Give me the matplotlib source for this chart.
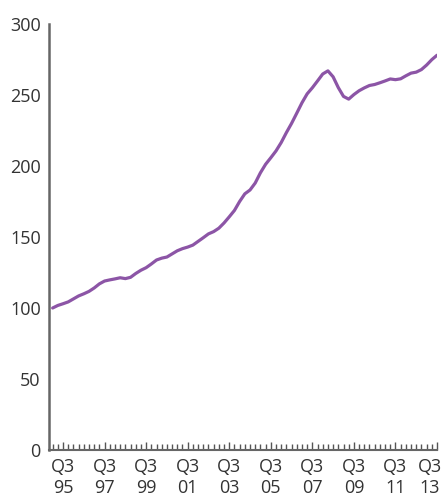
import numpy as np
import matplotlib.pyplot as plt
import matplotlib.transforms as mtransforms
from matplotlib.ticker import FixedLocator

# quarterly index, Q1 1995 = 100, up to Q3 2013
index_values = [
    100.0, 101.8, 103.0, 104.3, 106.4, 108.5, 110.0, 111.7,
    114.1, 117.0, 119.0, 119.8, 120.5, 121.3, 120.7, 121.6,
    124.3, 126.6, 128.4, 131.0, 133.8, 135.1, 135.9, 138.1,
    140.3, 141.8, 142.9, 144.3, 146.9, 149.5, 152.2, 153.8,
    156.2, 159.9, 164.2, 168.7, 175.0, 180.4, 183.1, 188.0,
    195.2, 201.2, 205.8, 210.6, 216.5, 223.5, 230.0, 237.2,
    244.5, 250.8, 255.1, 259.9, 264.8, 267.0, 262.8, 255.2,
    249.0, 247.1, 250.3, 253.0, 255.0, 256.7, 257.4, 258.6,
    259.9, 261.3, 260.8, 261.4, 263.5, 265.4, 266.1, 267.9,
    271.1, 274.9, 278.0,
]
tick_labels = ['Q3\n95', 'Q3\n97', 'Q3\n99', 'Q3\n01', 'Q3\n03',
               'Q3\n05', 'Q3\n07', 'Q3\n09', 'Q3\n11', 'Q3\n13']
y_ticks = [0, 50, 100, 150, 200, 250, 300]

plt.rcParams['font.family'] = ['Open Sans', 'DejaVu Sans']

fig = plt.figure(figsize=(4.42, 4.97), dpi=100)
ax = fig.add_axes([49/442, 47/497, 388/442, 426/497])

quarters = np.arange(len(index_values))
ax.plot(quarters, index_values, color='#8c55a6', lw=2.3, solid_capstyle='round')

ax.set_xlim(-0.7, 74)
ax.set_ylim(0, 300)

ax.xaxis.set_major_locator(FixedLocator(np.arange(2, 75, 8)))
ax.xaxis.set_minor_locator(FixedLocator(np.arange(0, 75, 1)))
ax.set_xticklabels(tick_labels)
ax.set_yticks(y_ticks)

ax.tick_params(axis='x', which='major', direction='in', length=6, width=1,
               color='#555555', labelsize=13, labelcolor='#333333', pad=6)
ax.tick_params(axis='x', which='minor', direction='in', length=4, width=1,
               color='#555555')
ax.tick_params(axis='y', length=0, labelsize=13, labelcolor='#333333', pad=6)
xlabels = ax.get_xticklabels()
for lbl in xlabels:
    lbl.set_linespacing(1.2)
# keep the last label inside the picture
shift = mtransforms.ScaledTranslation(-7/100, 0, fig.dpi_scale_trans)
xlabels[-1].set_transform(xlabels[-1].get_transform() + shift)

for s in ['top', 'right']:
    ax.spines[s].set_visible(False)
ax.spines['left'].set_color('#666666')
ax.spines['left'].set_linewidth(1.8)
ax.spines['bottom'].set_color('#666666')
ax.spines['bottom'].set_linewidth(1.5)

fig.savefig('out.png', dpi=100)
